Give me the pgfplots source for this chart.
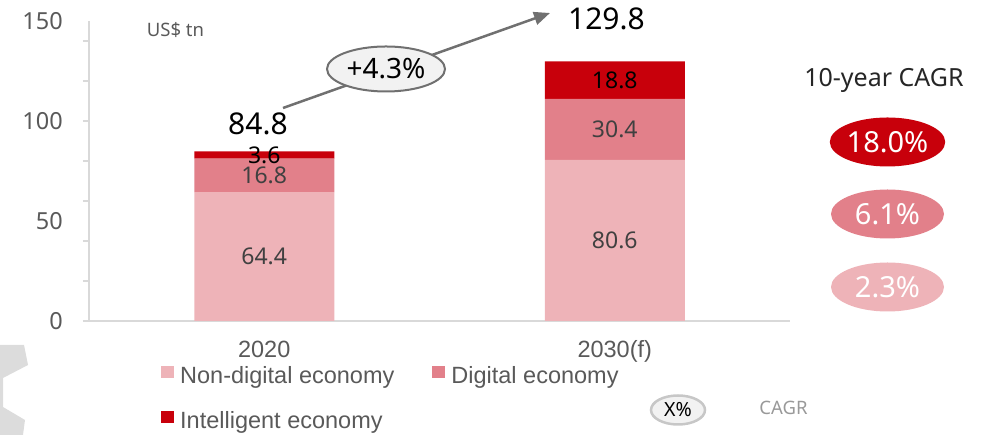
\documentclass[border=0pt]{standalone}
\usepackage{pgfplots}
\pgfplotsset{compat=1.18}
\usepackage{fontspec}
\setmainfont{Noto Sans}
\newfontfamily\arialf{Liberation Sans}
\usetikzlibrary{arrows.meta,shapes.geometric}

\definecolor{cLight}{HTML}{EEB3B8}
\definecolor{cMid}{HTML}{E2808A}
\definecolor{cDark}{HTML}{C8000B}
\definecolor{cAxis}{HTML}{D9D9D9}
\definecolor{cTick}{HTML}{595959}
\definecolor{cSeg}{HTML}{404040}
\definecolor{cArrow}{HTML}{707070}
\definecolor{cBubble}{HTML}{F2F2F2}
\definecolor{cGear}{HTML}{DCDCDC}

\newcommand\fs[1]{\fontsize{#1pt}{#1pt}\selectfont}

\begin{document}
\begin{tikzpicture}
\path[use as bounding box] (0,0) rectangle (990pt,435pt);

% watermark piece, bottom left
\fill[cGear] (0pt,90pt) -- (24pt,90pt) -- (28pt,70pt) -- (3pt,57pt) -- (3pt,28pt)
  -- (25pt,15pt) -- (23pt,0pt) -- (0pt,0pt) -- cycle;

\begin{axis}[
    at={(89pt,114pt)}, anchor=south west,
    scale only axis, width=701pt, height=300pt,
    xmin=-0.5, xmax=1.5, ymin=0, ymax=150,
    ybar stacked, bar width=140pt,
    axis x line*=bottom, axis y line*=left,
    axis line style={draw=cAxis, line width=1.5pt},
    major tick length=0pt,
    xtick={0,1}, xticklabels={2020,2030(f)},
    x tick label style={font=\arialf\fs{23.5}, text=cTick, anchor=base, yshift=-37pt},
    ytick={0,50,100,150},
    y tick label style={font=\fs{23.5}, text=cTick, anchor=east, inner sep=0pt, xshift=-26pt},
    /pgf/number format/assume math mode=true,
    extra y ticks={0,20,40,60,80,100,120,140},
    extra y tick labels={},
    extra y tick style={major tick length=6pt, tick align=outside,
        tick style={draw=cAxis, line width=1.5pt}},
    clip=false,
    legend columns=2,
    legend cell align=left,
    legend style={at={(0.1027,-0.150)}, anchor=north west, draw=none, fill=none,
        inner sep=0pt, row sep=23pt,
        font=\arialf\fs{23.5}, text=cTick,
        nodes={inner sep=0pt, text height=17pt, text depth=5pt},
        /tikz/every odd column/.append style={column sep=6pt},
        /tikz/every even column/.append style={column sep=38pt}},
    leg/.style={legend image code/.code={\fill[##1] (0pt,-1pt) rectangle (13pt,11pt);}},
]
\addplot[fill=cLight, draw=none, leg] coordinates {(0,64.4) (1,80.6)};
\addlegendentry{Non-digital economy}
\addplot[fill=cMid, draw=none, leg] coordinates {(0,16.8) (1,30.4)};
\addlegendentry{Digital economy}
\addplot[fill=cDark, draw=none, leg] coordinates {(0,3.6) (1,18.8)};
\addlegendentry{Intelligent economy}

% anchors for the segment values
\coordinate (s1) at (axis cs:0,32.2);
\coordinate (s2) at (axis cs:0,72.8);
\coordinate (s3) at (axis cs:0,83);
\coordinate (t1) at (axis cs:1,40.3);
\coordinate (t2) at (axis cs:1,95.8);
\coordinate (t3) at (axis cs:1,120.4);
\end{axis}

% segment values
\node[font=\fs{23}, text=cSeg, inner sep=0pt] at (s1) {64.4};
\node[font=\fs{23}, text=cSeg, inner sep=0pt] at (s2) {16.8};
\node[font=\fs{23}, text=black, inner sep=0pt] at (s3) {3.6};
\node[font=\fs{23}, text=cSeg, inner sep=0pt] at (t1) {80.6};
\node[font=\fs{23}, text=cSeg, inner sep=0pt] at (t2) {30.4};
\node[font=\fs{23}, text=black, inner sep=0pt] at (t3) {18.8};

% unit
\node[font=\fs{18.5}, text=cTick, anchor=base, inner sep=0pt] at (175.5pt,398pt) {US\$ tn};

% totals
\node[font=\fs{30}, inner sep=0pt] at (258pt,311pt) {84.8};
\node[font=\fs{30}, inner sep=0pt] at (606.5pt,416pt) {129.8};

% growth arrow with bubble
\draw[cArrow, line width=2.5pt, -{Triangle[length=16pt,width=13pt]}] (283pt,327pt) -- (550pt,422pt);
\node[ellipse, draw=cArrow, line width=2pt, fill=cBubble, minimum width=118pt, minimum height=45pt,
      inner sep=0pt, font=\fs{28}] at (386pt,366pt) {+4.3\%};

% CAGR column
\node[font=\fs{25}, text=black!85, anchor=base, inner sep=0pt] at (884pt,348pt) {10-year CAGR};
\node[ellipse, fill=cDark, minimum width=113pt, minimum height=49pt, inner sep=0pt,
      font=\fs{29}, text=white] at (887.5pt,293pt) {18.0\%};
\node[ellipse, fill=cMid, minimum width=113pt, minimum height=49pt, inner sep=0pt,
      font=\fs{29}, text=white] at (887.5pt,221pt) {6.1\%};
\node[ellipse, fill=cLight, minimum width=113pt, minimum height=49pt, inner sep=0pt,
      font=\fs{29}, text=white] at (887.5pt,148pt) {2.3\%};

% key for the bubbles
\node[ellipse, draw=cAxis!80!gray, line width=2.5pt, fill=cBubble, minimum width=54pt, minimum height=29pt,
      inner sep=0pt, font=\fs{19.5}] at (678pt,25pt) {X\%};
\node[font=\fs{18.5}, text=black!40, anchor=base, inner sep=0pt] at (783.5pt,20pt) {CAGR};
\end{tikzpicture}
\end{document}
